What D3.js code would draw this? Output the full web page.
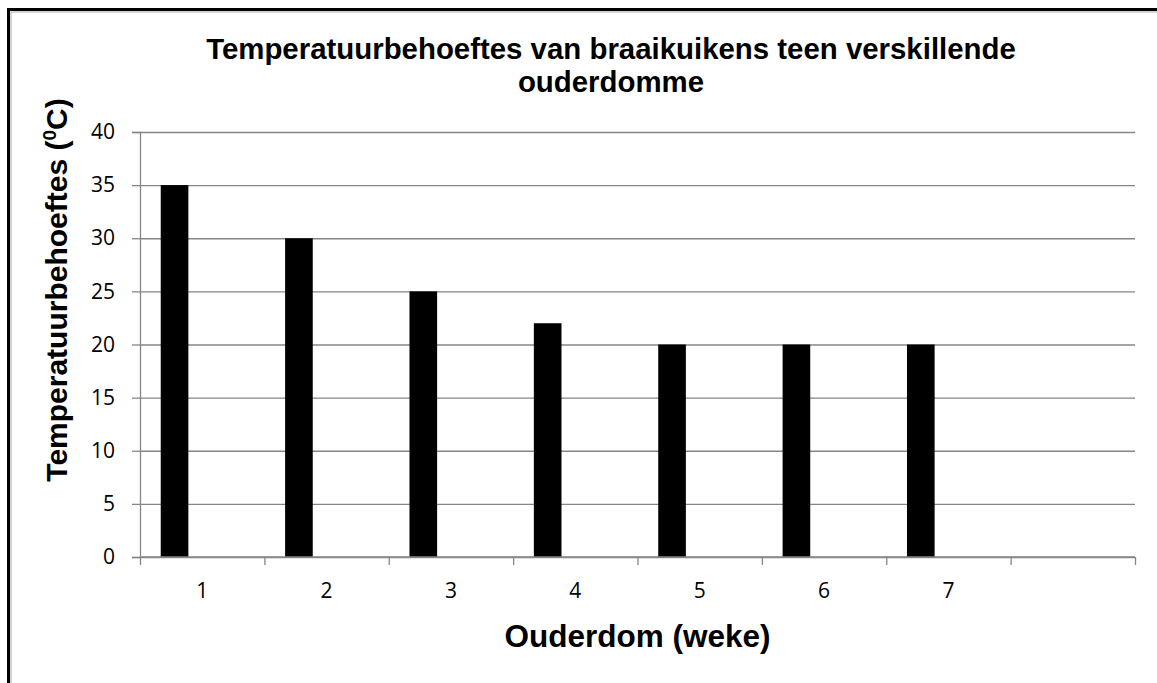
<!DOCTYPE html>
<html>
<head>
<meta charset="utf-8">
<script src="https://cdn.jsdelivr.net/npm/d3@7"></script>
<style>
    body { margin: 0; background: #fff; }
    svg { display: block; }
    .axis-title, .chart-title { font-family: 'Liberation Sans', Arial, sans-serif; font-weight: bold; fill: #000; }
</style>
</head>
<body>
<svg id="chart"></svg>
<script>
// Data
const weeks = ['1', '2', '3', '4', '5', '6', '7', ''];
const temps = [35, 30, 25, 22, 20, 20, 20];
const yTicks = [0, 5, 10, 15, 20, 25, 30, 35, 40];
// Excel clustered layout: the bars take the first of three series slots
const seriesSlots = ['temp', 'leeg1', 'leeg2'];

const titleLines = ['Temperatuurbehoeftes van braaikuikens teen verskillende', 'ouderdomme'];

const config = {
    containerWidth: 1157,
    containerHeight: 683,
    margin: {top: 132, right: 22, bottom: 126, left: 140}
};

const width = config.containerWidth - config.margin.left - config.margin.right;
const height = config.containerHeight - config.margin.top - config.margin.bottom;

const svg = d3.select('#chart')
    .attr('width', config.containerWidth)
    .attr('height', config.containerHeight);

// Chart area border (cropped on the right and bottom in the original)
svg.append('rect')
    .attr('x', 8.5).attr('y', 9.5)
    .attr('width', 1400).attr('height', 900)
    .attr('fill', 'none')
    .attr('stroke', '#000')
    .attr('stroke-width', 3);
svg.append('rect')
    .attr('x', 11).attr('y', 12)
    .attr('width', 1400).attr('height', 900)
    .attr('fill', 'none')
    .attr('stroke', '#aaa')
    .attr('stroke-width', 1);

const chart = svg.append('g')
    .attr('transform', `translate(${config.margin.left},${config.margin.top})`);

// Scales
const xScale = d3.scaleBand()
    .domain(weeks)
    .range([0, width])
    .padding(0);

const xSub = d3.scaleBand()
    .domain(seriesSlots)
    .range([0, xScale.bandwidth()])
    .paddingInner(0)
    .paddingOuter(0.75);

const xEdges = d3.scaleLinear()
    .domain([0, weeks.length])
    .range([0, width]);

const yScale = d3.scaleLinear()
    .domain([0, 40])
    .range([height, 0]);

const styleTicks = g => g.selectAll('.tick text')
    .style('font-family', "'Open Sans', sans-serif")
    .style('font-size', '21px')
    .attr('fill', '#000');

// Gridlines
chart.append('g')
    .attr('class', 'grid')
    .call(d3.axisLeft(yScale).tickValues(yTicks).tickSize(-width).tickFormat(''))
    .call(g => g.select('.domain').remove())
    .call(g => g.selectAll('.tick line').attr('stroke', '#868686').attr('stroke-width', 1.3));

// Bars
chart.selectAll('.bar')
    .data(temps)
    .join('rect')
        .attr('class', 'bar')
        .attr('x', (d, i) => xScale(weeks[i]) + xSub('temp'))
        .attr('width', xSub.bandwidth())
        .attr('y', d => yScale(d))
        .attr('height', d => height - yScale(d))
        .attr('fill', '#000');

// Y axis
chart.append('g')
    .attr('class', 'axis y-axis')
    .call(d3.axisLeft(yScale).tickValues(yTicks).tickSize(8).tickPadding(17))
    .call(g => g.select('.domain').attr('stroke', '#868686').attr('stroke-width', 1.3))
    .call(g => g.selectAll('.tick line').attr('stroke', '#868686').attr('stroke-width', 1.3))
    .call(styleTicks);

// X axis: ticks between categories
chart.append('g')
    .attr('class', 'axis x-axis')
    .attr('transform', `translate(0,${height})`)
    .call(d3.axisBottom(xEdges).tickValues(d3.range(weeks.length + 1)).tickSize(8).tickFormat(''))
    .call(g => g.select('.domain').attr('stroke', '#868686').attr('stroke-width', 1.3).attr('d', `M0,0H${width}`))
    .call(g => g.selectAll('.tick line').attr('stroke', '#868686').attr('stroke-width', 1.3));

// X labels centred in each category
chart.append('g')
    .attr('class', 'axis x-labels')
    .attr('transform', `translate(0,${height})`)
    .call(d3.axisBottom(xScale).tickSize(0).tickPadding(26))
    .call(g => g.select('.domain').remove())
    .call(styleTicks);

// Titles
svg.append('text')
    .attr('class', 'chart-title')
    .attr('text-anchor', 'middle')
    .style('font-size', '29.4px')
    .selectAll('tspan')
    .data(titleLines)
    .join('tspan')
        .attr('x', 611)
        .attr('y', (d, i) => 59 + i * 33)
        .text(d => d);

svg.append('text')
    .attr('class', 'axis-title')
    .attr('x', config.margin.left + width / 2)
    .attr('y', 647)
    .attr('text-anchor', 'middle')
    .style('font-size', '31.5px')
    .text('Ouderdom (weke)');

const yTitle = svg.append('text')
    .attr('class', 'axis-title')
    .attr('transform', 'translate(67,290) rotate(-90)')
    .attr('text-anchor', 'middle')
    .style('font-size', '30px');
yTitle.append('tspan').text('Temperatuurbehoeftes (');
yTitle.append('tspan').attr('font-size', '19px').attr('dy', '-11').text('0');
yTitle.append('tspan').attr('dy', '11').text('C)');
</script>
</body>
</html>
